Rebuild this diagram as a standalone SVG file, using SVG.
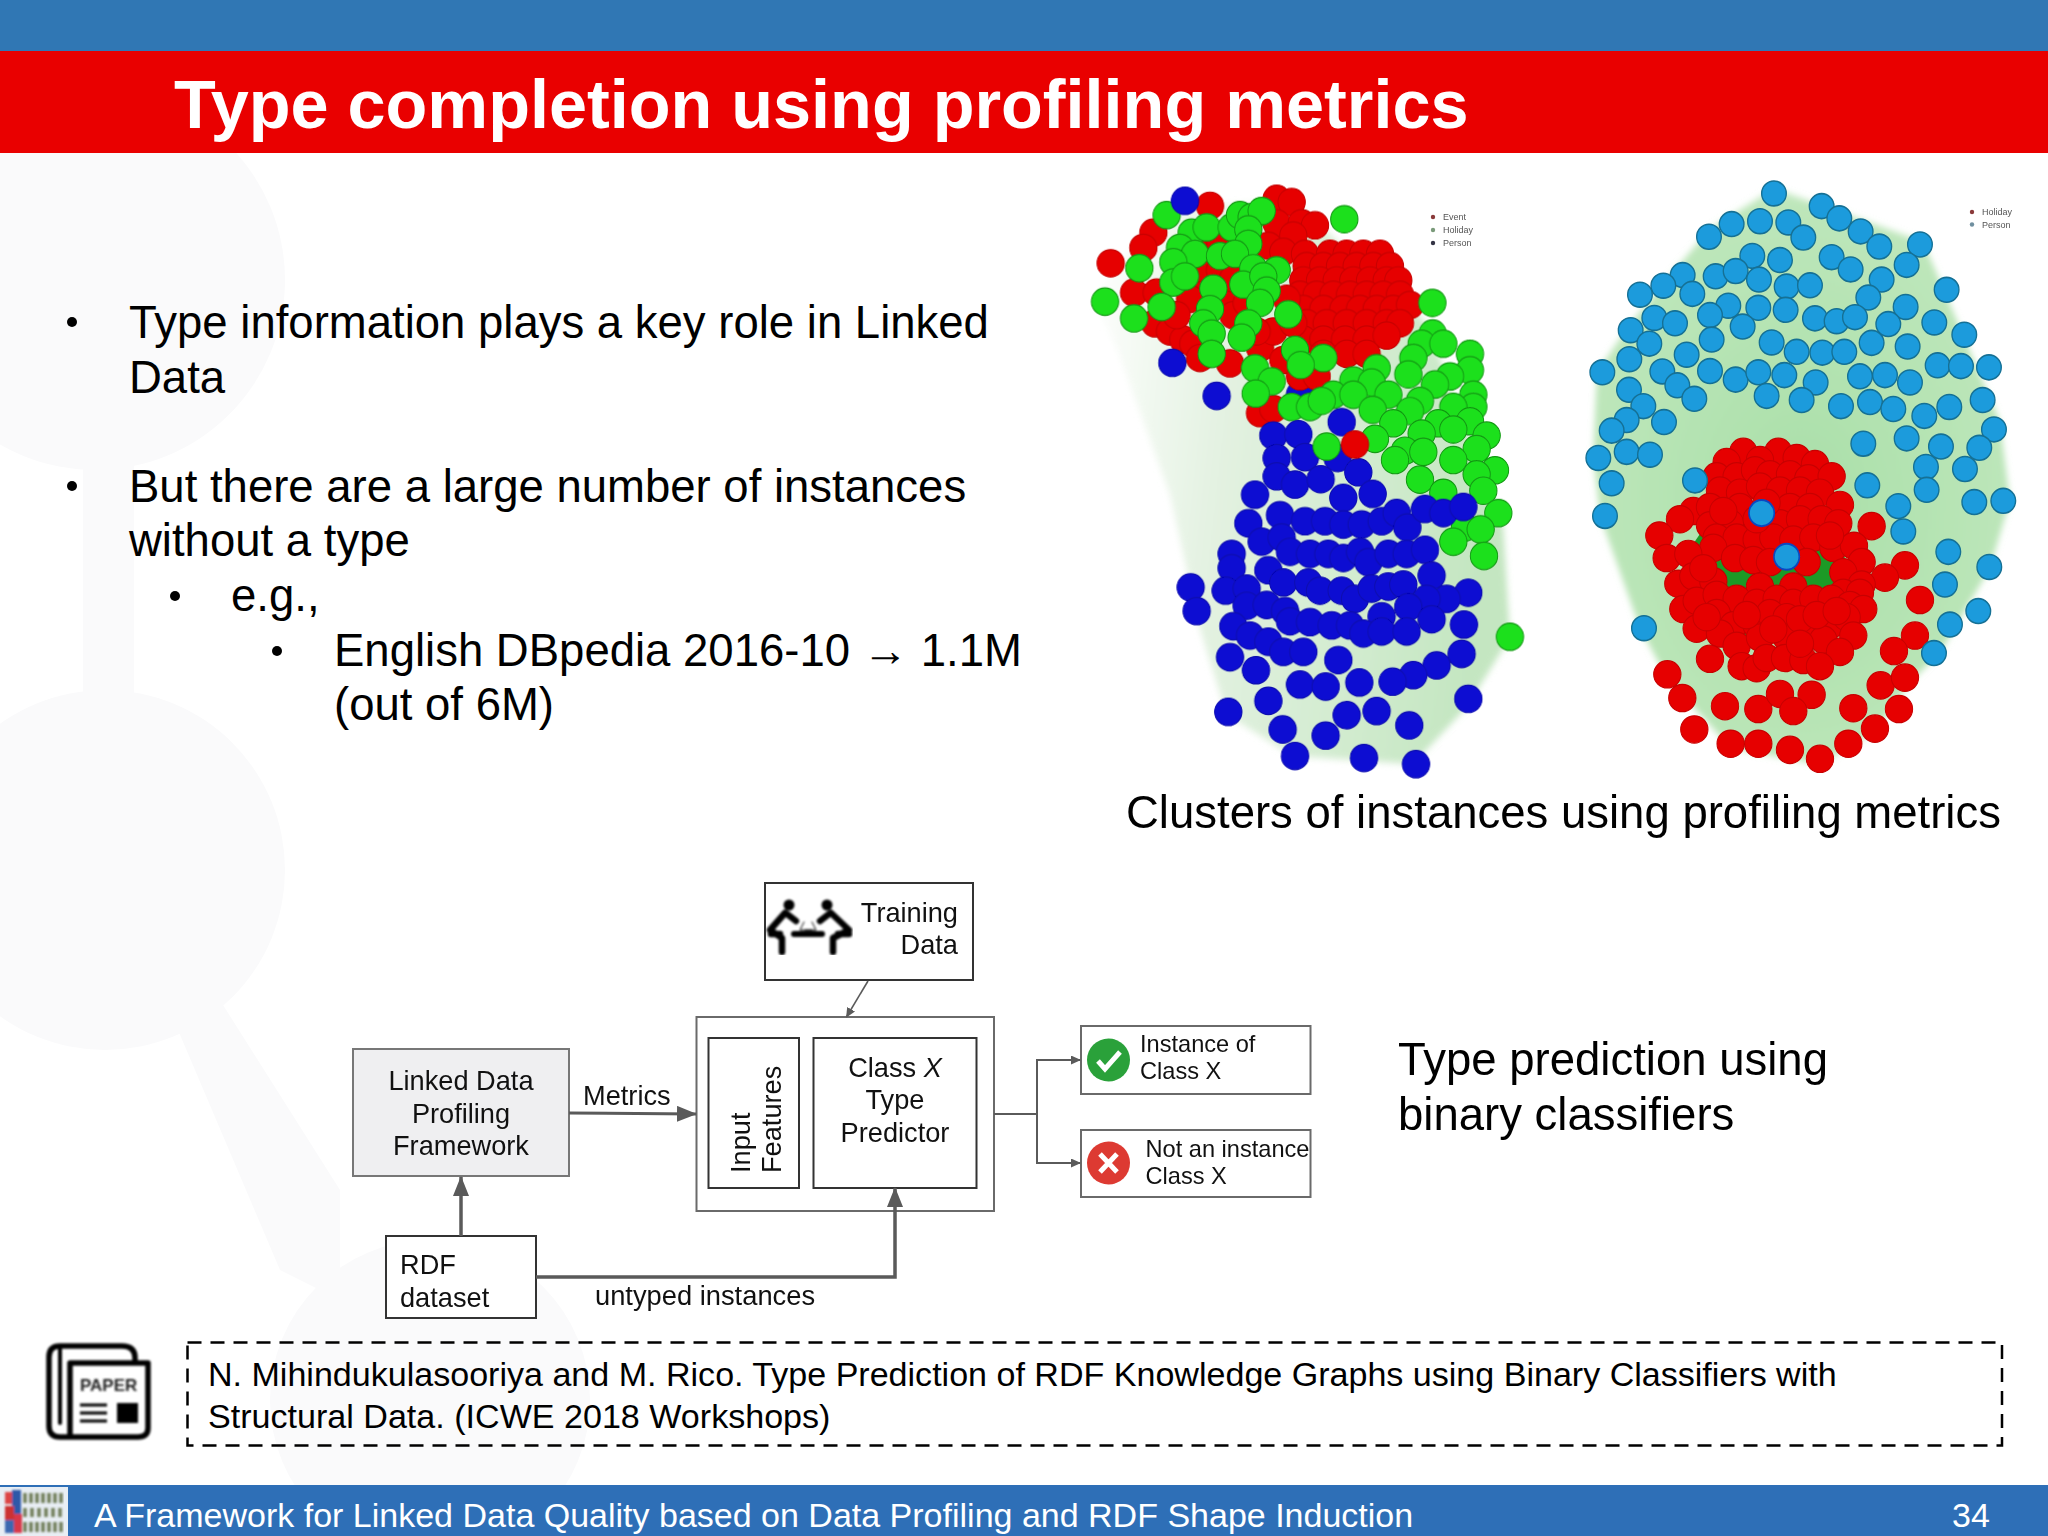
<svg xmlns="http://www.w3.org/2000/svg" xmlns:xlink="http://www.w3.org/1999/xlink" width="2048" height="1536" viewBox="0 0 2048 1536">
<style>
text{font-family:"Liberation Sans",Arial,sans-serif;fill:#000}
.b{font-size:45.5px}
.d{font-size:27.2px;fill:#111}
.s{font-size:23.6px;fill:#111}
.m{text-anchor:middle}
.e{text-anchor:end}
.box{fill:#fff;stroke:#333;stroke-width:2}
.box2{fill:#fff;stroke:#6a6a6a;stroke-width:2}
.wm{fill:#fafafb}
.c{fill:none;stroke:#5a5a5a}
.bk{fill:none;stroke:#000;stroke-linecap:round;stroke-linejoin:round}
.leg{font-size:9px;fill:#555}
</style>
<defs>
<ellipse id="nr" rx="41" ry="33.500" fill="#e60000" stroke="#c80000" stroke-width="3"/>
<ellipse id="ng" rx="41" ry="33.500" fill="#1fe01f" stroke="#129a12" stroke-width="3"/>
<ellipse id="nb" rx="41" ry="33.500" fill="#0a0ad2" stroke="#0808b0" stroke-width="3"/>
<ellipse id="nc" rx="37" ry="30.500" fill="#1b9bdc" stroke="#136f94" stroke-width="4"/>
<ellipse id="nd" rx="38" ry="32" fill="#1b9bdc" stroke="#0d46c0" stroke-width="5"/>
<linearGradient id="hl" x1="0" y1="0" x2="1" y2="0.15"><stop offset="0" stop-color="#fff"/><stop offset=".35" stop-color="#e4f2e2"/><stop offset="1" stop-color="#c4e6c1"/></linearGradient>
<radialGradient id="hr" cx=".5" cy=".55" r=".65"><stop offset="0" stop-color="#a9dfa8"/><stop offset=".8" stop-color="#bde6ba"/><stop offset="1" stop-color="#d8f0d4"/></radialGradient>
<filter id="soft" x="-5%" y="-5%" width="110%" height="110%"><feGaussianBlur stdDeviation="0.7"/></filter>
<filter id="soft2" x="-10%" y="-10%" width="120%" height="120%"><feGaussianBlur stdDeviation="9"/></filter>
<filter id="soft3" x="-5%" y="-5%" width="110%" height="110%"><feGaussianBlur stdDeviation="0.9"/></filter>
<marker id="ah" markerUnits="userSpaceOnUse" markerWidth="20" markerHeight="16" refX="19" refY="8" orient="auto"><path d="M0 0L20 8L0 16Z" fill="#5a5a5a"/></marker>
<marker id="as" markerUnits="userSpaceOnUse" markerWidth="10" markerHeight="9" refX="9" refY="4.500" orient="auto"><path d="M0 0L10 4.500L0 9Z" fill="#5a5a5a"/></marker>
</defs>
<rect width="2048" height="1536" fill="#fff"/>
<g id="watermark">
<circle class="wm" cx="95" cy="280" r="190"/>
<rect class="wm" x="83" y="440" width="51" height="270"/>
<circle class="wm" cx="105" cy="870" r="180"/>
<path class="wm" d="M178 1030L223 1005L340 1190L340 1300L280 1270Z"/>
<circle class="wm" cx="430" cy="1400" r="160"/>
</g>
<rect x="0" y="0" width="2048" height="51" fill="#3077b4"/>
<rect x="0" y="51" width="2048" height="102" fill="#e90000"/>
<text x="174" y="128" font-size="68.400" font-weight="700" style="fill:#fff">Type completion using profiling metrics</text>

<g id="bullets">
<circle cx="72" cy="322" r="5"/><circle cx="72" cy="486" r="5"/><circle cx="175" cy="596" r="5"/><circle cx="277" cy="651" r="5"/>
<text class="b" x="129" y="338">Type information plays a key role in Linked</text>
<text class="b" x="129" y="393">Data</text>
<text class="b" x="129" y="502">But there are a large number of instances</text>
<text class="b" x="129" y="556">without a type</text>
<text class="b" x="231" y="611">e.g.,</text>
<text class="b" x="334" y="666">English DBpedia 2016-10 → 1.1M</text>
<text class="b" x="334" y="720">(out of 6M)</text>
</g>

<g id="cluster-left" filter="url(#soft)" transform="translate(1060 160) scale(.3333 .4082)">
<path filter="url(#soft2)" fill="url(#hl)" d="M170 460L330 820L420 1150L500 1360L700 1460L1060 1480L1220 1340L1350 1170L1330 900L1100 400L700 100L300 120L100 340Z"/>
<use href="#nb" x="720" y="575"/><use href="#nb" x="833" y="730"/>
<use href="#nr" x="450" y="112"/><use href="#nr" x="650" y="95"/><use href="#nr" x="695" y="103"/><use href="#nr" x="280" y="178"/><use href="#nr" x="250" y="215"/><use href="#nr" x="152" y="253"/><use href="#nr" x="222" y="325"/><use href="#nr" x="650" y="155"/><use href="#nr" x="725" y="155"/><use href="#nr" x="765" y="160"/><use href="#nr" x="700" y="185"/><use href="#nr" x="625" y="210"/><use href="#nr" x="670" y="225"/><use href="#nr" x="735" y="230"/>
<use href="#nr" x="810" y="230"/><use href="#nr" x="860" y="230"/><use href="#nr" x="910" y="230"/><use href="#nr" x="960" y="230"/>
<use href="#nr" x="740" y="260"/><use href="#nr" x="790" y="260"/><use href="#nr" x="840" y="260"/><use href="#nr" x="890" y="260"/><use href="#nr" x="940" y="260"/><use href="#nr" x="990" y="260"/>
<use href="#nr" x="730" y="295"/><use href="#nr" x="780" y="295"/><use href="#nr" x="830" y="295"/><use href="#nr" x="880" y="295"/><use href="#nr" x="930" y="295"/><use href="#nr" x="980" y="295"/><use href="#nr" x="1015" y="295"/>
<use href="#nr" x="720" y="330"/><use href="#nr" x="770" y="330"/><use href="#nr" x="820" y="330"/><use href="#nr" x="870" y="330"/><use href="#nr" x="920" y="330"/><use href="#nr" x="970" y="330"/><use href="#nr" x="1020" y="330"/>
<use href="#nr" x="730" y="365"/><use href="#nr" x="790" y="365"/><use href="#nr" x="850" y="365"/><use href="#nr" x="900" y="365"/><use href="#nr" x="950" y="365"/><use href="#nr" x="1000" y="365"/><use href="#nr" x="1050" y="355"/>
<use href="#nr" x="740" y="400"/><use href="#nr" x="800" y="400"/><use href="#nr" x="860" y="400"/><use href="#nr" x="920" y="400"/><use href="#nr" x="980" y="400"/><use href="#nr" x="1020" y="400"/>
<use href="#nr" x="730" y="440"/><use href="#nr" x="790" y="440"/><use href="#nr" x="855" y="440"/><use href="#nr" x="920" y="440"/><use href="#nr" x="980" y="430"/>
<use href="#nr" x="790" y="475"/><use href="#nr" x="860" y="475"/><use href="#nr" x="920" y="475"/>
<use href="#nr" x="410" y="270"/><use href="#nr" x="480" y="270"/><use href="#nr" x="430" y="330"/><use href="#nr" x="510" y="340"/><use href="#nr" x="390" y="340"/><use href="#nr" x="290" y="325"/><use href="#nr" x="520" y="380"/><use href="#nr" x="285" y="400"/><use href="#nr" x="330" y="420"/><use href="#nr" x="370" y="440"/><use href="#nr" x="400" y="450"/><use href="#nr" x="420" y="485"/><use href="#nr" x="510" y="498"/><use href="#nr" x="600" y="460"/><use href="#nr" x="640" y="420"/><use href="#nr" x="590" y="420"/><use href="#nr" x="670" y="490"/><use href="#nr" x="720" y="530"/><use href="#nr" x="770" y="530"/><use href="#nr" x="600" y="620"/><use href="#nr" x="640" y="610"/><use href="#nr" x="440" y="210"/><use href="#nr" x="480" y="200"/><use href="#nr" x="520" y="290"/><use href="#nr" x="700" y="400"/><use href="#nr" x="680" y="340"/><use href="#nr" x="350" y="380"/><use href="#nr" x="560" y="350"/>
<use href="#ng" x="320" y="135"/><use href="#ng" x="853" y="145"/><use href="#ng" x="395" y="178"/><use href="#ng" x="440" y="165"/><use href="#ng" x="515" y="165"/><use href="#ng" x="540" y="135"/><use href="#ng" x="575" y="140"/><use href="#ng" x="605" y="125"/><use href="#ng" x="565" y="170"/><use href="#ng" x="360" y="215"/><use href="#ng" x="405" y="230"/><use href="#ng" x="565" y="205"/><use href="#ng" x="480" y="235"/><use href="#ng" x="525" y="230"/><use href="#ng" x="340" y="250"/><use href="#ng" x="238" y="265"/><use href="#ng" x="580" y="265"/><use href="#ng" x="650" y="270"/><use href="#ng" x="340" y="300"/><use href="#ng" x="375" y="285"/><use href="#ng" x="550" y="305"/><use href="#ng" x="610" y="285"/><use href="#ng" x="620" y="320"/><use href="#ng" x="460" y="315"/><use href="#ng" x="135" y="347"/><use href="#ng" x="305" y="360"/><use href="#ng" x="450" y="365"/><use href="#ng" x="600" y="350"/><use href="#ng" x="685" y="378"/><use href="#ng" x="222" y="388"/><use href="#ng" x="430" y="400"/><use href="#ng" x="565" y="400"/><use href="#ng" x="455" y="425"/><use href="#ng" x="545" y="435"/><use href="#ng" x="455" y="475"/><use href="#ng" x="705" y="465"/><use href="#ng" x="790" y="485"/><use href="#ng" x="722" y="502"/><use href="#ng" x="1117" y="350"/><use href="#ng" x="585" y="510"/><use href="#ng" x="635" y="542"/><use href="#ng" x="587" y="572"/>
<use href="#ng" x="1118" y="425"/><use href="#ng" x="1085" y="450"/><use href="#ng" x="1150" y="450"/><use href="#ng" x="1230" y="475"/><use href="#ng" x="1060" y="485"/><use href="#ng" x="1230" y="515"/><use href="#ng" x="950" y="510"/><use href="#ng" x="1045" y="525"/><use href="#ng" x="880" y="540"/><use href="#ng" x="935" y="545"/><use href="#ng" x="1170" y="530"/><use href="#ng" x="1125" y="550"/><use href="#ng" x="1240" y="575"/><use href="#ng" x="820" y="575"/><use href="#ng" x="880" y="575"/><use href="#ng" x="985" y="575"/><use href="#ng" x="1080" y="590"/><use href="#ng" x="1240" y="605"/><use href="#ng" x="695" y="605"/><use href="#ng" x="750" y="605"/><use href="#ng" x="785" y="590"/><use href="#ng" x="938" y="612"/><use href="#ng" x="1180" y="605"/><use href="#ng" x="1050" y="615"/><use href="#ng" x="1000" y="645"/><use href="#ng" x="1135" y="645"/><use href="#ng" x="1230" y="640"/><use href="#ng" x="1180" y="660"/><use href="#ng" x="1280" y="675"/><use href="#ng" x="945" y="683"/><use href="#ng" x="1085" y="670"/><use href="#ng" x="1250" y="708"/><use href="#ng" x="1035" y="712"/><use href="#ng" x="1090" y="715"/><use href="#ng" x="1005" y="735"/><use href="#ng" x="1180" y="735"/><use href="#ng" x="1305" y="760"/><use href="#ng" x="1250" y="770"/><use href="#ng" x="1080" y="783"/><use href="#ng" x="1270" y="810"/><use href="#ng" x="1150" y="815"/><use href="#ng" x="1315" y="865"/><use href="#ng" x="1215" y="900"/><use href="#ng" x="1262" y="905"/><use href="#ng" x="1180" y="935"/><use href="#ng" x="1272" y="970"/><use href="#ng" x="1350" y="1168"/>
<use href="#nb" x="375" y="100"/><use href="#nb" x="337" y="497"/><use href="#nb" x="470" y="578"/><use href="#nb" x="845" y="642"/><use href="#nb" x="640" y="675"/><use href="#nb" x="715" y="672"/><use href="#nb" x="650" y="730"/><use href="#nb" x="735" y="728"/><use href="#nb" x="650" y="775"/><use href="#nb" x="705" y="795"/><use href="#nb" x="782" y="782"/><use href="#nb" x="895" y="765"/><use href="#nb" x="585" y="820"/><use href="#nb" x="850" y="828"/><use href="#nb" x="938" y="818"/>
<use href="#nb" x="565" y="890"/><use href="#nb" x="660" y="870"/><use href="#nb" x="735" y="885"/><use href="#nb" x="795" y="885"/><use href="#nb" x="850" y="893"/><use href="#nb" x="905" y="893"/><use href="#nb" x="965" y="885"/><use href="#nb" x="1010" y="865"/><use href="#nb" x="1042" y="900"/><use href="#nb" x="1095" y="855"/><use href="#nb" x="1150" y="865"/><use href="#nb" x="1210" y="850"/>
<use href="#nb" x="605" y="935"/><use href="#nb" x="665" y="925"/><use href="#nb" x="690" y="960"/><use href="#nb" x="750" y="965"/><use href="#nb" x="805" y="965"/><use href="#nb" x="850" y="975"/><use href="#nb" x="900" y="960"/><use href="#nb" x="925" y="985"/><use href="#nb" x="985" y="965"/><use href="#nb" x="1040" y="965"/><use href="#nb" x="1095" y="955"/>
<use href="#nb" x="515" y="965"/><use href="#nb" x="515" y="1000"/><use href="#nb" x="392" y="1047"/><use href="#nb" x="410" y="1105"/><use href="#nb" x="625" y="1005"/><use href="#nb" x="670" y="1035"/><use href="#nb" x="745" y="1035"/><use href="#nb" x="780" y="1055"/><use href="#nb" x="845" y="1055"/><use href="#nb" x="885" y="1075"/><use href="#nb" x="935" y="1050"/><use href="#nb" x="985" y="1045"/><use href="#nb" x="1030" y="1040"/><use href="#nb" x="1115" y="1018"/>
<use href="#nb" x="497" y="1055"/><use href="#nb" x="560" y="1050"/><use href="#nb" x="560" y="1092"/><use href="#nb" x="620" y="1090"/><use href="#nb" x="675" y="1105"/><use href="#nb" x="1225" y="1060"/><use href="#nb" x="1160" y="1075"/><use href="#nb" x="1100" y="1075"/><use href="#nb" x="1045" y="1095"/><use href="#nb" x="1115" y="1125"/><use href="#nb" x="965" y="1118"/>
<use href="#nb" x="520" y="1142"/><use href="#nb" x="570" y="1165"/><use href="#nb" x="625" y="1180"/><use href="#nb" x="690" y="1130"/><use href="#nb" x="750" y="1132"/><use href="#nb" x="815" y="1140"/><use href="#nb" x="870" y="1140"/><use href="#nb" x="910" y="1160"/><use href="#nb" x="965" y="1155"/><use href="#nb" x="1040" y="1155"/><use href="#nb" x="1212" y="1138"/>
<use href="#nb" x="670" y="1205"/><use href="#nb" x="730" y="1205"/><use href="#nb" x="510" y="1218"/><use href="#nb" x="588" y="1250"/><use href="#nb" x="835" y="1225"/><use href="#nb" x="1205" y="1210"/><use href="#nb" x="1130" y="1238"/><use href="#nb" x="1060" y="1262"/><use href="#nb" x="998" y="1278"/><use href="#nb" x="720" y="1285"/><use href="#nb" x="797" y="1290"/><use href="#nb" x="898" y="1280"/>
<use href="#nb" x="625" y="1325"/><use href="#nb" x="1225" y="1320"/><use href="#nb" x="505" y="1352"/><use href="#nb" x="860" y="1360"/><use href="#nb" x="950" y="1350"/><use href="#nb" x="668" y="1395"/><use href="#nb" x="797" y="1410"/><use href="#nb" x="1048" y="1385"/><use href="#nb" x="705" y="1460"/><use href="#nb" x="912" y="1465"/><use href="#nb" x="1068" y="1480"/>
<use href="#ng" x="800" y="702"/><use href="#nr" x="885" y="697"/>
</g>
<g id="legend-left">
<circle cx="1433" cy="217" r="2.200" fill="#8a3a3a"/><circle cx="1433" cy="230" r="2.200" fill="#7a9a7a"/><circle cx="1433" cy="243" r="2.200" fill="#334"/>
<text class="leg" x="1443" y="220">Event</text><text class="leg" x="1443" y="233">Holiday</text><text class="leg" x="1443" y="246">Person</text>
</g>

<g id="cluster-right" filter="url(#soft)" transform="translate(1560 160) scale(.3333 .4082)">
<path filter="url(#soft2)" fill="url(#hr)" d="M642 70L1090 200L1320 640L1350 835L1290 1000L1140 1208L1050 1280L945 1400L780 1480L512 1440L322 1270L240 1147L120 872L100 730L110 520L212 400L447 170Z"/>
<ellipse cx="620" cy="1010" rx="240" ry="170" fill="#1c9a26"/>
<use href="#nr" x="550" y="715"/><use href="#nr" x="655" y="715"/><use href="#nr" x="500" y="740"/><use href="#nr" x="600" y="735"/><use href="#nr" x="710" y="730"/><use href="#nr" x="765" y="745"/><use href="#nr" x="470" y="775"/><use href="#nr" x="530" y="775"/><use href="#nr" x="585" y="760"/><use href="#nr" x="630" y="770"/><use href="#nr" x="690" y="770"/><use href="#nr" x="745" y="780"/><use href="#nr" x="815" y="775"/>
<use href="#nr" x="480" y="810"/><use href="#nr" x="540" y="815"/><use href="#nr" x="600" y="800"/><use href="#nr" x="660" y="810"/><use href="#nr" x="720" y="810"/><use href="#nr" x="780" y="815"/><use href="#nr" x="400" y="860"/><use href="#nr" x="450" y="850"/><use href="#nr" x="360" y="880"/><use href="#nr" x="540" y="850"/><use href="#nr" x="690" y="850"/><use href="#nr" x="750" y="850"/><use href="#nr" x="840" y="845"/><use href="#nr" x="450" y="895"/><use href="#nr" x="510" y="890"/><use href="#nr" x="660" y="890"/><use href="#nr" x="720" y="880"/><use href="#nr" x="785" y="880"/><use href="#nr" x="835" y="890"/><use href="#nr" x="470" y="925"/><use href="#nr" x="530" y="925"/><use href="#nr" x="590" y="930"/><use href="#nr" x="640" y="925"/><use href="#nr" x="700" y="930"/><use href="#nr" x="760" y="925"/><use href="#nr" x="820" y="950"/><use href="#nr" x="935" y="897"/><use href="#nr" x="298" y="920"/><use href="#nr" x="882" y="945"/><use href="#nr" x="460" y="950"/><use href="#nr" x="320" y="975"/><use href="#nr" x="385" y="965"/><use href="#nr" x="525" y="975"/><use href="#nr" x="580" y="980"/><use href="#nr" x="630" y="985"/><use href="#nr" x="740" y="985"/><use href="#nr" x="905" y="985"/><use href="#nr" x="1035" y="993"/><use href="#nr" x="975" y="1023"/><use href="#nr" x="850" y="1010"/><use href="#nr" x="905" y="1040"/><use href="#nr" x="1080" y="1078"/>
<use href="#nr" x="355" y="1038"/><use href="#nr" x="400" y="1020"/><use href="#nr" x="460" y="1032"/><use href="#nr" x="600" y="1045"/><use href="#nr" x="700" y="1045"/><use href="#nr" x="850" y="1060"/><use href="#nr" x="900" y="1060"/>
<use href="#nr" x="370" y="1100"/><use href="#nr" x="410" y="1080"/><use href="#nr" x="470" y="1065"/><use href="#nr" x="530" y="1075"/><use href="#nr" x="590" y="1085"/><use href="#nr" x="650" y="1075"/><use href="#nr" x="700" y="1085"/><use href="#nr" x="760" y="1075"/><use href="#nr" x="815" y="1075"/><use href="#nr" x="870" y="1090"/><use href="#nr" x="910" y="1100"/>
<use href="#nr" x="410" y="1148"/><use href="#nr" x="470" y="1110"/><use href="#nr" x="520" y="1140"/><use href="#nr" x="590" y="1140"/><use href="#nr" x="630" y="1110"/><use href="#nr" x="680" y="1120"/><use href="#nr" x="745" y="1150"/><use href="#nr" x="810" y="1140"/><use href="#nr" x="860" y="1120"/><use href="#nr" x="880" y="1165"/>
<use href="#nr" x="480" y="1160"/><use href="#nr" x="530" y="1190"/><use href="#nr" x="600" y="1170"/><use href="#nr" x="680" y="1170"/><use href="#nr" x="790" y="1175"/><use href="#nr" x="840" y="1205"/>
<use href="#nr" x="1065" y="1165"/><use href="#nr" x="1002" y="1203"/><use href="#nr" x="450" y="1222"/><use href="#nr" x="545" y="1240"/><use href="#nr" x="590" y="1245"/><use href="#nr" x="620" y="1220"/><use href="#nr" x="675" y="1220"/><use href="#nr" x="730" y="1225"/><use href="#nr" x="780" y="1240"/>
<use href="#nr" x="322" y="1260"/><use href="#nr" x="962" y="1287"/><use href="#nr" x="1035" y="1268"/><use href="#nr" x="367" y="1318"/><use href="#nr" x="495" y="1338"/><use href="#nr" x="595" y="1345"/><use href="#nr" x="660" y="1308"/><use href="#nr" x="755" y="1310"/><use href="#nr" x="700" y="1350"/><use href="#nr" x="880" y="1343"/><use href="#nr" x="1017" y="1345"/><use href="#nr" x="403" y="1395"/><use href="#nr" x="945" y="1393"/><use href="#nr" x="512" y="1430"/><use href="#nr" x="595" y="1430"/><use href="#nr" x="690" y="1445"/><use href="#nr" x="865" y="1430"/><use href="#nr" x="780" y="1467"/>
<use href="#nr" x="620" y="840"/><use href="#nr" x="490" y="860"/><use href="#nr" x="590" y="880"/><use href="#nr" x="810" y="920"/><use href="#nr" x="560" y="1115"/><use href="#nr" x="440" y="1120"/><use href="#nr" x="720" y="1125"/><use href="#nr" x="770" y="1115"/><use href="#nr" x="640" y="1150"/><use href="#nr" x="720" y="1185"/><use href="#nr" x="830" y="1105"/><use href="#nr" x="430" y="1000"/>
<use href="#nd" x="605" y="865"/><use href="#nd" x="680" y="972"/>
<use href="#nc" x="642" y="82"/><use href="#nc" x="785" y="113"/><use href="#nc" x="838" y="143"/><use href="#nc" x="902" y="175"/><use href="#nc" x="958" y="212"/><use href="#nc" x="1080" y="207"/><use href="#nc" x="1040" y="257"/><use href="#nc" x="515" y="157"/><use href="#nc" x="600" y="150"/><use href="#nc" x="685" y="153"/><use href="#nc" x="730" y="190"/><use href="#nc" x="447" y="188"/><use href="#nc" x="577" y="235"/><use href="#nc" x="660" y="245"/><use href="#nc" x="815" y="238"/><use href="#nc" x="872" y="268"/><use href="#nc" x="965" y="293"/><use href="#nc" x="925" y="337"/><use href="#nc" x="1160" y="318"/><use href="#nc" x="1037" y="360"/><use href="#nc" x="1123" y="398"/><use href="#nc" x="1213" y="428"/><use href="#nc" x="368" y="282"/><use href="#nc" x="310" y="308"/><use href="#nc" x="240" y="330"/><use href="#nc" x="397" y="328"/><use href="#nc" x="467" y="285"/><use href="#nc" x="527" y="272"/><use href="#nc" x="597" y="293"/><use href="#nc" x="680" y="310"/><use href="#nc" x="750" y="307"/><use href="#nc" x="505" y="357"/><use href="#nc" x="595" y="362"/><use href="#nc" x="677" y="367"/><use href="#nc" x="450" y="380"/><use href="#nc" x="548" y="408"/><use href="#nc" x="765" y="388"/><use href="#nc" x="830" y="395"/><use href="#nc" x="885" y="385"/><use href="#nc" x="985" y="402"/><use href="#nc" x="283" y="387"/><use href="#nc" x="345" y="400"/><use href="#nc" x="212" y="417"/><use href="#nc" x="268" y="450"/><use href="#nc" x="455" y="440"/><use href="#nc" x="635" y="447"/><use href="#nc" x="710" y="470"/><use href="#nc" x="787" y="472"/><use href="#nc" x="853" y="470"/><use href="#nc" x="935" y="448"/><use href="#nc" x="1043" y="457"/><use href="#nc" x="380" y="477"/><use href="#nc" x="208" y="488"/><use href="#nc" x="127" y="520"/><use href="#nc" x="307" y="518"/><use href="#nc" x="450" y="517"/><use href="#nc" x="527" y="538"/><use href="#nc" x="595" y="520"/><use href="#nc" x="673" y="527"/><use href="#nc" x="767" y="545"/><use href="#nc" x="900" y="530"/><use href="#nc" x="975" y="527"/><use href="#nc" x="1050" y="545"/><use href="#nc" x="1133" y="503"/><use href="#nc" x="1203" y="505"/><use href="#nc" x="1287" y="508"/><use href="#nc" x="352" y="552"/><use href="#nc" x="207" y="563"/><use href="#nc" x="403" y="585"/><use href="#nc" x="620" y="578"/><use href="#nc" x="725" y="588"/><use href="#nc" x="843" y="603"/><use href="#nc" x="930" y="593"/><use href="#nc" x="1000" y="610"/><use href="#nc" x="1093" y="627"/><use href="#nc" x="1168" y="605"/><use href="#nc" x="1268" y="588"/><use href="#nc" x="250" y="603"/><use href="#nc" x="200" y="637"/><use href="#nc" x="312" y="642"/><use href="#nc" x="155" y="663"/><use href="#nc" x="1302" y="660"/><use href="#nc" x="1040" y="682"/><use href="#nc" x="910" y="695"/><use href="#nc" x="1143" y="702"/><use href="#nc" x="1258" y="705"/><use href="#nc" x="200" y="715"/><use href="#nc" x="270" y="722"/><use href="#nc" x="115" y="730"/><use href="#nc" x="1098" y="752"/><use href="#nc" x="1215" y="757"/><use href="#nc" x="155" y="792"/><use href="#nc" x="405" y="785"/><use href="#nc" x="922" y="797"/><use href="#nc" x="1100" y="808"/><use href="#nc" x="1243" y="838"/><use href="#nc" x="1330" y="835"/><use href="#nc" x="135" y="872"/><use href="#nc" x="1015" y="848"/><use href="#nc" x="1030" y="910"/><use href="#nc" x="1165" y="960"/><use href="#nc" x="1288" y="997"/><use href="#nc" x="1155" y="1040"/><use href="#nc" x="1255" y="1105"/><use href="#nc" x="1170" y="1138"/><use href="#nc" x="252" y="1147"/><use href="#nc" x="1122" y="1208"/>
</g>
<g id="legend-right">
<circle cx="1972" cy="212" r="2.200" fill="#8a3a3a"/><circle cx="1972" cy="224.500" r="2.200" fill="#6f8f9f"/>
<text class="leg" x="1982" y="215">Holiday</text><text class="leg" x="1982" y="227.500">Person</text>
</g>
<text class="b" x="1126" y="828" id="caption">Clusters of instances using profiling metrics</text>

<g id="node-training">
<rect class="box" x="765" y="883" width="208" height="97"/>
<g filter="url(#soft3)">
<circle cx="789" cy="905" r="5.500"/><circle cx="827" cy="905" r="5.500"/>
<path class="bk" stroke-width="6.500" d="M785 913L770 930L782 938V952M796 921L787 914M771 934H780"/>
<path class="bk" stroke-width="6.500" d="M831 913L849 930L833 938V952M820 921L829 914M849 934H838"/>
<path class="bk" stroke-width="6" d="M794 934H822"/>
<path class="bk" stroke-width="1" stroke="#555" d="M804 922L800 930H812M812 922L816 930H805"/>
</g>
<text class="d e" x="958" y="922">Training</text>
<text class="d e" x="958" y="954">Data</text>
</g>
<g id="node-classifier">
<rect class="box2" x="696.500" y="1017" width="297.500" height="194"/>
</g>
<g id="node-input-features">
<rect class="box" x="708.500" y="1038" width="90.500" height="150"/>
<text class="d" transform="translate(750 1173) rotate(-90)">Input</text>
<text class="d" transform="translate(781 1173) rotate(-90)">Features</text>
</g>
<g id="node-predictor">
<rect class="box" x="813.500" y="1038" width="163" height="150"/>
<text class="d m" x="895" y="1077">Class <tspan font-style="italic">X</tspan></text>
<text class="d m" x="895" y="1109">Type</text>
<text class="d m" x="895" y="1142">Predictor</text>
</g>
<g id="node-profiling">
<rect x="353" y="1049" width="216" height="127" fill="#efeff1" stroke="#777" stroke-width="2"/>
<text class="d m" x="461" y="1090">Linked Data</text>
<text class="d m" x="461" y="1123">Profiling</text>
<text class="d m" x="461" y="1155">Framework</text>
</g>
<g id="node-rdf">
<rect class="box" x="386" y="1236" width="150" height="82"/>
<text class="d" x="400" y="1274">RDF</text>
<text class="d" x="400" y="1307">dataset</text>
</g>
<text class="d" x="583" y="1105">Metrics</text>
<text x="595" y="1305" font-size="27.300" style="fill:#111">untyped instances</text>
<g id="node-instance">
<rect class="box2" x="1081" y="1026" width="229.500" height="68"/>
<circle cx="1108.500" cy="1060" r="21.500" fill="#2aa13a"/>
<path d="M1098 1061L1105 1069L1120 1052" fill="none" stroke="#fff" stroke-width="5"/>
<text class="s" x="1140" y="1052">Instance of</text>
<text class="s" x="1140" y="1079">Class X</text>
</g>
<g id="node-not-instance">
<rect class="box2" x="1081" y="1130" width="229.500" height="67"/>
<circle cx="1108.500" cy="1163" r="21.500" fill="#dd3a32"/>
<path d="M1100 1154L1117 1172M1117 1154L1100 1172" fill="none" stroke="#fff" stroke-width="5"/>
<text class="s" x="1145.500" y="1157">Not an instance</text>
<text class="s" x="1145.500" y="1184">Class X</text>
</g>
<g id="connectors">
<path class="c" stroke-width="3" marker-end="url(#ah)" d="M569 1113L696 1114"/>
<path class="c" stroke-width="3.500" marker-end="url(#ah)" d="M461 1236V1177"/>
<path class="c" stroke-width="3.500" marker-end="url(#ah)" d="M536 1277H895V1188"/>
<path class="c" stroke-width="1.600" marker-end="url(#as)" d="M868 981L846.500 1017"/>
<path class="c" stroke-width="2" marker-end="url(#as)" d="M994 1114H1037V1060H1080"/>
<path class="c" stroke-width="2" marker-end="url(#as)" d="M1037 1114V1163H1080"/>
</g>
<text class="b" x="1398" y="1075">Type prediction using</text>
<text class="b" x="1398" y="1130">binary classifiers</text>

<g id="paper-icon" filter="url(#soft3)">
<path class="bk" stroke-width="5.500" d="M135 1363V1358Q135 1346 122 1346H60Q49 1346 49 1357V1426Q49 1437 60 1437H138Q148 1437 148 1428V1363H70V1437"/>
<path class="bk" stroke-width="4" d="M60 1348V1423"/>
<text x="80" y="1391" font-size="17" font-weight="700" style="fill:#222">PAPER</text>
<path d="M80 1405H107M80 1413H107M80 1421H107" stroke="#000" stroke-width="3" fill="none"/>
<rect x="117" y="1403" width="21" height="20"/>
</g>
<g id="citation">
<rect x="187.500" y="1342.500" width="1814.500" height="103" fill="none" stroke="#000" stroke-width="2.500" stroke-dasharray="14 9"/>
<text x="208" y="1386" font-size="34.050">N. Mihindukulasooriya and M. Rico. Type Prediction of RDF Knowledge Graphs using Binary Classifiers with</text>
<text x="208" y="1427.500" font-size="34.100">Structural Data. (ICWE 2018 Workshops)</text>
</g>

<g id="footer">
<rect x="0" y="1485" width="2048" height="51" fill="#2e6fb7"/>
<rect x="0" y="1487" width="68" height="49" fill="#e8eef4"/>
<g filter="url(#soft3)">
<rect x="5" y="1492" width="9" height="12" fill="#d44"/><rect x="12" y="1490" width="9" height="24" fill="#2f58a8"/><rect x="5" y="1506" width="9" height="14" fill="#c33"/><rect x="14" y="1514" width="8" height="19" fill="#d8384a"/><rect x="5" y="1520" width="9" height="13" fill="#3a68b0"/>
<path d="M25 1493V1503M31 1493V1503M37 1493V1503M43 1493V1503M49 1493V1503M55 1493V1503M61 1493V1503M25 1508V1517M32 1508V1517M39 1508V1517M46 1508V1517M53 1508V1517M60 1508V1517M25 1522V1532M31 1522V1532M37 1522V1532M43 1522V1532M49 1522V1532M55 1522V1532M61 1522V1532" stroke="#6d7a55" stroke-width="3.500" fill="none"/>
</g>
<text x="94" y="1527" font-size="34" style="fill:#fff">A Framework for Linked Data Quality based on Data Profiling and RDF Shape Induction</text>
<text x="1952" y="1527" font-size="34" style="fill:#fff">34</text>
</g>
</svg>
